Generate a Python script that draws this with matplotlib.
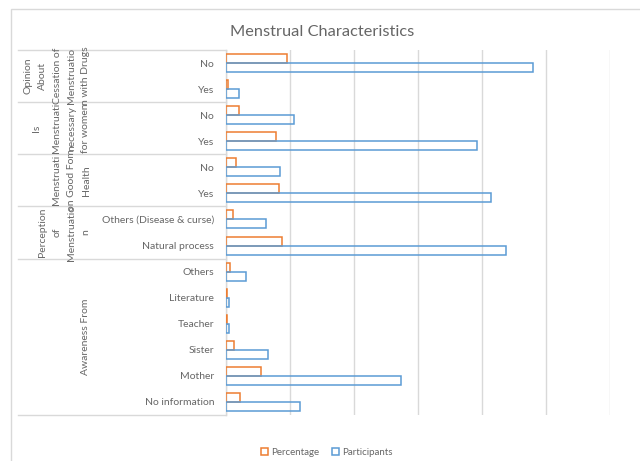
import matplotlib
matplotlib.use("Agg")
import matplotlib.pyplot as plt
import matplotlib.transforms as mtransforms
from matplotlib.patches import Rectangle, Patch
from matplotlib.lines import Line2D
import numpy as np

# ---------------- data ----------------
inner_labels = ["No", "Yes", "No", "Yes", "No", "Yes",
                "Others (Disease & curse)", "Natural process",
                "Others", "Literature", "Teacher", "Sister", "Mother", "No information"]
participants = [240, 10, 53, 196, 42, 207, 31, 219, 16, 2, 2, 33, 137, 58]
percentage = [48, 1.8, 10.4, 39.3, 8.0, 41.4, 5.8, 43.5, 2.8, 0.4, 0.4, 6.3, 27.3, 11.3]

group_sizes = [2, 2, 2, 2, 6]
group_lines = [["Opinion", "About", "Cessation of", "Menstruatio", "n with Drugs"],
               ["Is", "Menstruati", "necessary", "for women"],
               ["Menstruati", "on Good Fom", "Health"],
               ["Perception", "of", "Menstruatio", "n"],
               ["Awareness From"]]

series_names = ["Percentage", "Participants"]
title = "Menstrual Characteristics"

# ---------------- style ----------------
W, H = 640, 461
FONT = ["Lato", "DejaVu Sans"]
plt.rcParams["font.family"] = FONT
TXT = "#666666"
GRID = "#D9D9D9"
ORANGE = "#ED7D31"
BLUE = "#5B9BD5"

fig = plt.figure(figsize=(W / 100, H / 100), dpi=100)
ax = fig.add_axes([226 / W, 1 - 415 / H, (609.7 - 226) / W, (415 - 50) / H])

n = len(inner_labels)
y = np.arange(n)
h = 0.345
ax.barh(y - h / 2, percentage, height=h, facecolor="none", edgecolor=ORANGE, linewidth=1.1, zorder=3)
ax.barh(y + h / 2, participants, height=h, facecolor="none", edgecolor=BLUE, linewidth=1.1, zorder=3)

ax.set_xlim(0, 300)
ax.set_ylim(n - 0.5, -0.5)
ax.set_xticks(np.arange(0, 301, 50))
ax.set_xticklabels([])
ax.tick_params(axis="x", length=0)
ax.grid(axis="x", color=GRID, linewidth=1.0, zorder=0)
ax.set_axisbelow(True)
for s in ["top", "right", "bottom"]:
    ax.spines[s].set_visible(False)
ax.spines["left"].set_color(GRID)
ax.spines["left"].set_linewidth(1.0)

ax.set_yticks(y)
ax.set_yticklabels(inner_labels, fontsize=7.5, color=TXT)
ax.tick_params(axis="y", length=0, pad=8.6)

# group separators and outer labels
blend = mtransforms.blended_transform_factory(fig.transFigure, ax.transData)
bounds = np.concatenate([[0], np.cumsum(group_sizes)]) - 0.5
for b in bounds:
    fig.add_artist(Line2D([18 / W, 226 / W], [b, b], transform=blend, color=GRID, linewidth=1.0))

for gi, lines in enumerate(group_lines):
    center = (bounds[gi] + bounds[gi + 1]) / 2
    m = len(lines)
    for k, line in enumerate(lines):
        xpx = 86 - (m - 1 - k) * 14.5
        if gi == 1 and k == 0:
            xpx = 36
        fig.text(xpx / W, center, line, transform=blend, rotation=90,
                 ha="center", va="center", fontsize=7.5, color=TXT)

# title
fig.text(322 / W, 1 - 32 / H, title, ha="center", va="center", fontsize=11.8, color=TXT)

# legend
handles = [Patch(facecolor="none", edgecolor=ORANGE, linewidth=1.1),
           Patch(facecolor="none", edgecolor=BLUE, linewidth=1.1)]
fig.legend(handles, series_names, loc="center", bbox_to_anchor=(327 / W, 1 - 452 / H),
           ncol=2, frameon=False, fontsize=7.0, labelcolor=TXT,
           handlelength=0.75, handleheight=0.75, handletextpad=0.3, columnspacing=1.3)

# chart border
fig.add_artist(Rectangle((11 / W, -0.02), 1.0, 1 - 9 / H + 0.02, transform=fig.transFigure,
                         facecolor="none", edgecolor=GRID, linewidth=1.0))

fig.savefig("out.png", dpi=100)
